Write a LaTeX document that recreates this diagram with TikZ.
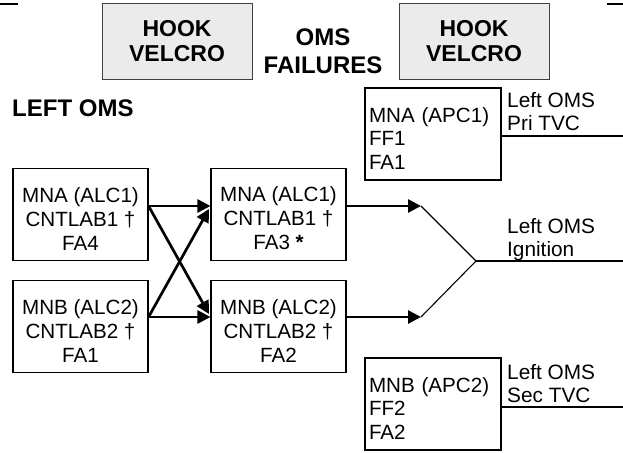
\documentclass[tikz,border=0pt]{standalone}
\usepackage{fontspec}
\setmainfont{Liberation Sans}
\usetikzlibrary{arrows.meta}
\newcommand\topstrut{\rule{0pt}{23pt}}
\begin{document}
\begin{tikzpicture}[x=1pt,y=-1pt,
  hookbox/.style={draw=black!75,line width=1pt,fill=black!8,minimum width=150pt,minimum height=75pt,
    align=center,inner sep=0pt,font=\bfseries\fontsize{23}{25}\selectfont},
  title/.style={align=center,inner sep=0pt,font=\bfseries\fontsize{24}{28}\selectfont},
  alcbox/.style={draw,line width=1.1pt,minimum width=135pt,minimum height=92pt,align=center,
    inner sep=0pt,font=\fontsize{20.6}{24}\selectfont},
  apcbox/.style={draw,line width=1.1pt,text width=128pt,inner sep=4pt,minimum height=92pt,align=left,
    font=\fontsize{20.6}{23.5}\selectfont},
  lbl/.style={anchor=base west,inner sep=0pt,font=\fontsize{20.8}{23}\selectfont},
  arr/.style={line width=2.7pt,-{Triangle[length=13pt,width=13pt]}},
  thin/.style={line width=1.1pt}]
\useasboundingbox (0,0) rectangle (623,452);
% top corner marks
\coordinate (tl0) at (0,4); \coordinate (tl1) at (18,4);
\coordinate (tr0) at (607,4); \coordinate (tr1) at (623,4);
\draw[thin] (tl0) -- (tl1);
\draw[thin] (tr0) -- (tr1);
% header
\node[hookbox] (hook1) at (177,41.5) {HOOK\\VELCRO};
\node[hookbox] (hook2) at (474,41.5) {HOOK\\VELCRO};
\node[title] (oms) at (323,51) {OMS\\FAILURES};
\node[title,anchor=west] (left) at (12,108) {LEFT OMS};
% ALC boxes
\node[alcbox] (b1) at (80.5,214.5) {\topstrut MNA (ALC1)\\CNTLAB1 \textdagger\\FA4};
\node[alcbox] (b2) at (80.5,326.5) {\topstrut MNB (ALC2)\\CNTLAB2 \textdagger\\FA1};
\node[alcbox] (b3) at (278.5,214.5) {\topstrut MNA (ALC1)\\CNTLAB1 \textdagger\\FA3 \textbf{*}};
\node[alcbox] (b4) at (278.5,326.5) {\topstrut MNB (ALC2)\\CNTLAB2 \textdagger\\FA2};
% APC boxes
\node[apcbox] (apc1) at (433,134) {\topstrut MNA (APC1)\\FF1\\FA1};
\node[apcbox] (apc2) at (433,404) {\topstrut MNB (APC2)\\FF2\\FA2};
% coordinates
\coordinate (ya) at (0,206);
\coordinate (yb) at (0,317);
\coordinate (xa) at (209,209);
\coordinate (xb) at (209,314);
\coordinate (ta) at (421,206);
\coordinate (tb) at (421,317);
\coordinate (j) at (476,261);
\coordinate (ign) at (623,261);
\coordinate (pri) at (623,136);
\coordinate (sec) at (623,407);
% arrows
\draw[arr] (b1.east |- ya) -- (b3.west |- ya);
\draw[arr] (b2.east |- yb) -- (b4.west |- yb);
\draw[arr] (b1.east |- ya) -- (xb);
\draw[arr] (b2.east |- yb) -- (xa);
\draw[arr] (b3.east |- ya) -- (ta);
\draw[arr] (b4.east |- yb) -- (tb);
\draw[thin] (ta) -- (j) -- (tb);
\draw[thin] (j) -- (ign);
\draw[thin] (apc1.east |- pri) -- (pri);
\draw[thin] (apc2.east |- sec) -- (sec);
% labels
\node[lbl] (lpri) at (507,130) {\begin{tabular}[b]{@{}l@{}}Left OMS\\Pri TVC\end{tabular}};
\node[lbl] (lign) at (507,256) {\begin{tabular}[b]{@{}l@{}}Left OMS\\Ignition\end{tabular}};
\node[lbl] (lsec) at (507,402) {\begin{tabular}[b]{@{}l@{}}Left OMS\\Sec TVC\end{tabular}};
\end{tikzpicture}
\end{document}
